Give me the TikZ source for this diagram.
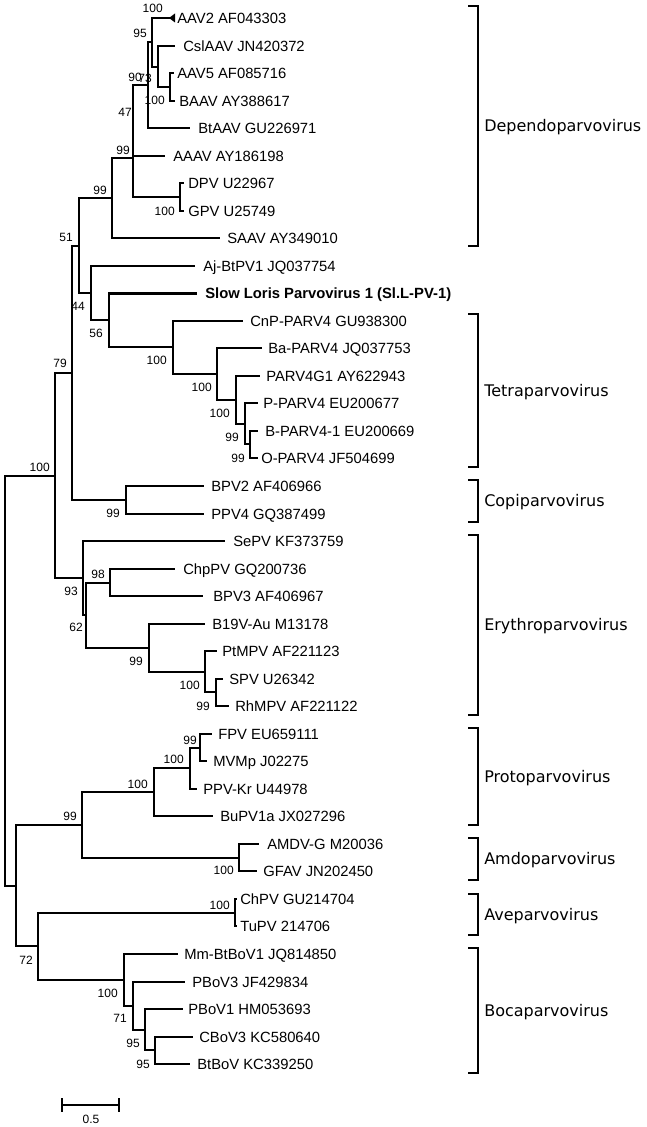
\documentclass[tikz,border=0pt]{standalone}
\usepackage{fontspec}
\setmainfont{Liberation Sans}
\newfontfamily\cladefont{DejaVu Sans}
\begin{document}
\begin{tikzpicture}[x=0.75pt,y=-0.75pt,
  branch/.style={line width=1.5pt},
  boldbranch/.style={line width=2.25pt},
  leaf/.style={anchor=base west, inner sep=0pt, yshift=-4pt, font=\fontsize{11.1}{12}\selectfont},
  boot/.style={anchor=base east, inner sep=0pt, yshift=-3.2pt, font=\fontsize{9}{10}\selectfont},
  clade/.style={anchor=base west, inner sep=0pt, yshift=-4.4pt, font=\cladefont\fontsize{12}{14}\selectfont},
  bracket/.style={line width=1.5pt}]
\useasboundingbox (0,0) rectangle (646,1127);

% leaf tips and labels
\foreach \i/\tip/\tx/\lab in {
 0/174/177/{AAV2 AF043303},
 1/175/183/{CslAAV JN420372},
 2/174/177/{AAV5 AF085716},
 3/175/179/{BAAV AY388617},
 4/190/198/{BtAAV GU226971},
 5/165/173/{AAAV AY186198},
 6/184/188/{DPV U22967},
 7/184/188/{GPV U25749},
 8/220/227/{SAAV AY349010},
 9/195/203/{Aj-BtPV1 JQ037754},
 10/197/205/{\bfseries Slow Loris Parvovirus 1 (Sl.L-PV-1)},
 11/243/250/{CnP-PARV4 GU938300},
 12/262/268/{Ba-PARV4 JQ037753},
 13/260/266/{PARV4G1 AY622943},
 14/258/263/{P-PARV4 EU200677},
 15/258/265/{B-PARV4-1 EU200669},
 16/258/261/{O-PARV4 JF504699},
 17/204/211/{BPV2 AF406966},
 18/204/211/{PPV4 GQ387499},
 19/225/233/{SePV KF373759},
 20/175/183/{ChpPV GQ200736},
 21/203/213/{BPV3 AF406967},
 22/205/212/{B19V-Au M13178},
 23/217/222/{PtMPV AF221123},
 24/223/229/{SPV U26342},
 25/229/235/{RhMPV AF221122},
 26/212/218/{FPV EU659111},
 27/207/213/{MVMp J02275},
 28/197/203/{PPV-Kr U44978},
 29/213/220/{BuPV1a JX027296},
 30/259/267/{AMDV-G M20036},
 31/257/263/{GFAV JN202450},
 32/237/240/{ChPV GU214704},
 33/237/240/{TuPV 214706},
 34/178/184/{Mm-BtBoV1 JQ814850},
 35/185/192/{PBoV3 JF429834},
 36/183/188/{PBoV1 HM053693},
 37/193/199/{CBoV3 KC580640},
 38/190/197/{BtBoV KC339250}}{
  \pgfmathsetmacro{\yy}{round(18+27.53*\i)}
  \coordinate (L\i) at (\tip,\yy);
  \node[leaf] (T\i) at (\tx,\yy) {\lab};
}

% internal nodes
\coordinate (nAB) at (170,87);
\coordinate (nA) at (158,67);
\coordinate (nB) at (152,42);
\coordinate (nC) at (148,85);
\coordinate (nD) at (133,120);
\coordinate (nDG) at (180,197);
\coordinate (nE) at (133,158);
\coordinate (nF) at (112,198);
\coordinate (nT5) at (250,444);
\coordinate (nT4) at (245,424);
\coordinate (nT3) at (236,400);
\coordinate (nT2) at (217,374);
\coordinate (nT1) at (173,347);
\coordinate (nI) at (109,320);
\coordinate (nH) at (91,293);
\coordinate (nG) at (79,246);
\coordinate (nCopi) at (126,500);
\coordinate (nJ) at (72,373);
\coordinate (nM) at (110,583);
\coordinate (nN3) at (216,692);
\coordinate (nN2) at (205,672);
\coordinate (nN) at (149,648);
\coordinate (nL) at (86,615);
\coordinate (nK) at (83,578);
\coordinate (nO) at (55,476);
\coordinate (nQ) at (200,748);
\coordinate (nR) at (190,768);
\coordinate (nS) at (154,792);
\coordinate (nTa) at (239,858);
\coordinate (nU) at (82,825);
\coordinate (nV) at (235,913);
\coordinate (nZ) at (155,1050);
\coordinate (nY) at (145,1030);
\coordinate (nX) at (133,1006);
\coordinate (nW) at (124,980);
\coordinate (nAA) at (38,946);
\coordinate (nP) at (16,886);
\coordinate (root) at (5,681);

\foreach \p/\c in {nAB/L2,nAB/L3,nA/L1,nA/nAB,nB/L0,nB/nA,nC/nB,nC/L4,nD/nC,nD/L5,
  nDG/L6,nDG/L7,nE/nD,nE/nDG,nF/nE,nF/L8,
  nT5/L15,nT5/L16,nT4/L14,nT4/nT5,nT3/L13,nT3/nT4,nT2/L12,nT2/nT3,nT1/L11,nT1/nT2,
  nI/L10,nI/nT1,nH/L9,nH/nI,nG/nF,nG/nH,nCopi/L17,nCopi/L18,nJ/nG,nJ/nCopi,
  nM/L20,nM/L21,nN3/L24,nN3/L25,nN2/L23,nN2/nN3,nN/L22,nN/nN2,nL/nM,nL/nN,nK/L19,nK/nL,
  nO/nJ,nO/nK,nQ/L26,nQ/L27,nR/nQ,nR/L28,nS/nR,nS/L29,nTa/L30,nTa/L31,nU/nS,nU/nTa,
  nV/L32,nV/L33,nZ/L37,nZ/L38,nY/L36,nY/nZ,nX/L35,nX/nY,nW/L34,nW/nX,nAA/nV,nAA/nW,
  nP/nU,nP/nAA,root/nO,root/nP}{
  \draw[branch] (\p) |- (\c);
}
\draw[boldbranch, yshift=-0.375pt] (nI |- L10) -- (L10);
\fill (L0) ++(-5,0) -- ++(6,-4.5) -- ++(0,9) -- cycle;

% bootstrap values
\foreach \x/\y/\v in {163/8/100,147/33/95,142/77/90,152/78/73,165/100/100,132/112/47,130/150/99,
  175/211/100,107/190/99,73/237/51,85/306/44,103/333/56,167/360/100,212/387/100,230/413/100,
  239/437/99,245/458/99,67/363/79,50/467/100,120/513/99,78/591/93,105/574/98,83/627/62,
  143/661/99,200/685/100,210/706/99,197/740/99,184/759/100,148/784/100,77/816/99,
  234/870/100,230/905/100,33/960/72,118/993/100,127/1018/71,140/1043/95,150/1064/95}{
  \node[boot] at (\x,\y) {\v};
}

% scale bar
\coordinate (s1) at (62,1105);
\coordinate (s2) at (119,1105);
\coordinate (s1a) at (62,1098);
\coordinate (s1b) at (62,1112);
\coordinate (s2a) at (119,1098);
\coordinate (s2b) at (119,1112);
\draw[branch] (s1) -- (s2);
\draw[branch] (s1a) -- (s1b);
\draw[branch] (s2a) -- (s2b);
\node[inner sep=0pt, font=\fontsize{9}{10}\selectfont] (scalelbl) at (91,1119) {0.5};

% clade brackets
\foreach \nm/\t/\b in {Dependoparvovirus/6/246,Tetraparvovirus/314/467,Copiparvovirus/480/522,
  Erythroparvovirus/535/715,Protoparvovirus/728/825,Amdoparvovirus/838/880,
  Aveparvovirus/894/935,Bocaparvovirus/948/1073}{
  \coordinate (\nm-t) at (468,\t);
  \coordinate (\nm-b) at (468,\b);
  \draw[bracket] (\nm-t) -- (478,\t) -- (478,\b) -- (\nm-b);
  \pgfmathsetmacro{\mid}{(\t+\b)/2}
  \node[clade] (\nm) at (484,\mid) {\nm};
}
\end{tikzpicture}
\end{document}
